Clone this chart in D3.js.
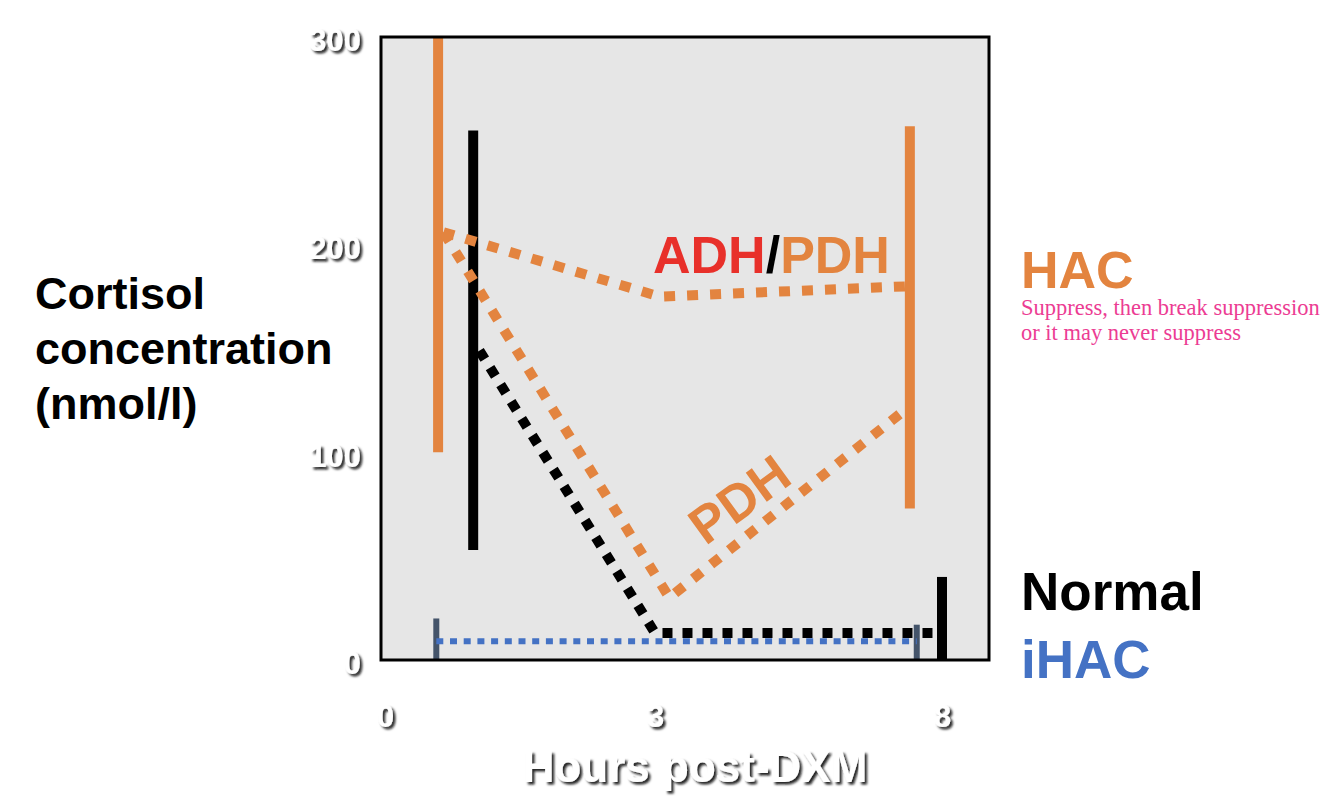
<!DOCTYPE html>
<html><head><meta charset="utf-8">
<script src="https://cdn.jsdelivr.net/npm/d3@7"></script>
<style>body{margin:0;background:#fff}svg{display:block}</style>
</head><body>
<svg id="c" width="1334" height="803"></svg>
<script>
// ---- data ----
const xTicks = [0, 3, 8];
const yTicks = [0, 100, 200, 300];
// vertical range bars: [hours, low, high]
const hacBars = [[0.59, 100, 300], [7.44, 73, 257]];
const normalBars = [[0.98, 53, 255], [8.0, 0, 40]];
const ihacBars = [[0.57, 0, 20], [7.56, 0, 17]];
// dotted lines: [hours, cortisol]
const adhPdhLine = [[0.65, 206], [3.08, 175], [7.43, 180]];
const pdhLine = [[0.65, 206], [3.25, 30], [7.38, 121]];
const normalLine = [[1.05, 149], [3.0, 13], [8.0, 13]];
const ihacLine = [[0.57, 9], [7.56, 9]];

const ORANGE = "#E3843F", BLUE = "#4472C4", SLATE = "#44546A", RED = "#E8302A", PINK = "#EC3C93";

const svg = d3.select("#c");
const x = d3.scaleLinear().domain([0, 3, 8]).range([385, 655, 942]);
const y = d3.scaleLinear().domain([0, 300]).range([660, 37]);
const L = 381, R = 989;

const defs = svg.append("defs");
const f = defs.append("filter").attr("id", "sh").attr("x", "-20%").attr("y", "-20%").attr("width", "140%").attr("height", "160%");
f.append("feDropShadow").attr("dx", 2.5).attr("dy", 2.5).attr("stdDeviation", 1.2).attr("flood-color", "#111").attr("flood-opacity", 0.9);
defs.append("clipPath").attr("id", "clip").append("rect")
  .attr("x", L).attr("y", y(300)).attr("width", R - L).attr("height", y(0) - y(300));

// panel
svg.append("rect").attr("x", L).attr("y", y(300)).attr("width", R - L).attr("height", y(0) - y(300))
  .attr("fill", "#E6E6E6");

const g = svg.append("g").attr("clip-path", "url(#clip)");
const line = d3.line().x(d => x(d[0])).y(d => y(d[1]));

function bars(data, color, w) {
  g.selectAll(null).data(data).enter().append("line")
    .attr("x1", d => x(d[0])).attr("x2", d => x(d[0]))
    .attr("y1", d => y(d[1])).attr("y2", d => y(d[2]))
    .attr("stroke", color).attr("stroke-width", w);
}
function dotted(data, color, w, dash) {
  g.append("path").datum(data).attr("d", line).attr("fill", "none")
    .attr("stroke", color).attr("stroke-width", w).attr("stroke-dasharray", dash);
}
bars(hacBars, ORANGE, 10);
bars(normalBars, "#000", 10);
bars(ihacBars, SLATE, 6);
dotted(adhPdhLine, ORANGE, 10, "11,12");
dotted(pdhLine, ORANGE, 10, "11,12");
dotted(normalLine, "#000", 10, "10,10");
dotted(ihacLine, BLUE, 6, "7,6.7");

// frame
svg.append("rect").attr("x", L).attr("y", y(300)).attr("width", R - L).attr("height", y(0) - y(300))
  .attr("fill", "none").attr("stroke", "#000").attr("stroke-width", 3);

const FONT = "'Liberation Sans', Arial, Helvetica, sans-serif";
// axes tick labels (white with shadow)
const yAxis = d3.axisLeft(y).tickValues(yTicks).tickSize(0).tickPadding(0);
const ya = svg.append("g").attr("transform", `translate(${L - 20},4)`).call(yAxis);
ya.select(".domain").remove();
ya.selectAll("text").attr("font-family", FONT).attr("font-size", 31).attr("font-weight", "bold")
  .attr("fill", "#fff").attr("filter", "url(#sh)").attr("dy", "0.32em");

const xAxis = d3.axisBottom(x).tickValues(xTicks).tickSize(0).tickPadding(0);
const xa = svg.append("g").attr("transform", `translate(0,${y(0) + 57})`).call(xAxis);
xa.select(".domain").remove();
xa.selectAll("text").attr("font-family", FONT).attr("font-size", 31).attr("font-weight", "bold")
  .attr("fill", "#fff").attr("filter", "url(#sh)").attr("dy", "0.32em");

// axis titles
svg.append("text").attr("x", 695).attr("y", 782).attr("text-anchor", "middle")
  .attr("font-family", FONT).attr("font-size", 44).attr("font-weight", "bold")
  .attr("fill", "#fff").attr("filter", "url(#sh)").text("Hours post-DXM");

const yt = svg.append("text").attr("font-family", FONT).attr("font-size", 45).attr("font-weight", "bold").attr("fill", "#000");
["Cortisol", "concentration", "(nmol/l)"].forEach((t, i) =>
  yt.append("tspan").attr("x", 35).attr("y", 309 + i * 55).text(t));

// annotations
const adh = svg.append("text").attr("x", 653).attr("y", 273).attr("font-family", FONT)
  .attr("font-size", 52).attr("font-weight", "bold");
adh.append("tspan").attr("fill", RED).text("ADH");
adh.append("tspan").attr("fill", "#000").text("/");
adh.append("tspan").attr("fill", ORANGE).text("PDH");

svg.append("text").attr("transform", "translate(750,514) rotate(-36)").attr("text-anchor", "middle")
  .attr("font-family", FONT).attr("font-size", 52).attr("font-weight", "bold").attr("fill", ORANGE).text("PDH");

svg.append("text").attr("x", 1021).attr("y", 288).attr("font-family", FONT).attr("font-size", 52)
  .attr("font-weight", "bold").attr("fill", ORANGE).text("HAC");
const sub = svg.append("text").attr("font-family", "'Liberation Serif', 'Times New Roman', serif")
  .attr("font-size", 22.5).attr("fill", PINK);
sub.append("tspan").attr("x", 1021).attr("y", 315).text("Suppress, then break suppression");
sub.append("tspan").attr("x", 1021).attr("y", 340).text("or it may never suppress");

svg.append("text").attr("x", 1021).attr("y", 610).attr("font-family", FONT).attr("font-size", 53)
  .attr("font-weight", "bold").attr("fill", "#000").text("Normal");
svg.append("text").attr("x", 1021).attr("y", 678).attr("font-family", FONT).attr("font-size", 53)
  .attr("font-weight", "bold").attr("fill", BLUE).text("iHAC");
</script>
</body></html>
